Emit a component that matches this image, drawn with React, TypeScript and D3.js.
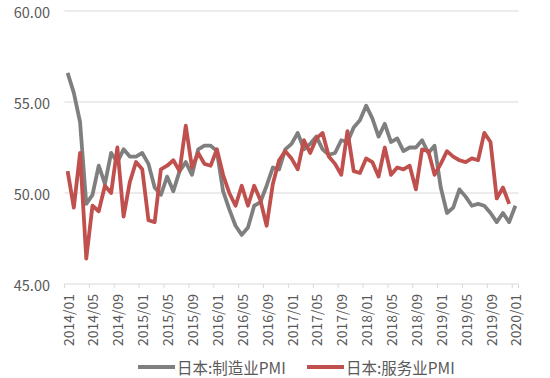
import React from "react";
import * as d3 from "d3";

const months: string[] = [];
for (let y = 2014; y <= 2020; y++) {
  for (let m = 1; m <= 12; m++) {
    if (y === 2020 && m > 1) break;
    months.push(`${y}/${m < 10 ? "0" + m : m}`);
  }
}

const manufacturing = [
  56.6, 55.5, 53.9, 49.4, 49.9, 51.5, 50.5, 52.2, 51.7, 52.4, 52.0, 52.0,
  52.2, 51.6, 50.3, 49.9, 50.9, 50.1, 51.2, 51.7, 51.0, 52.4, 52.6, 52.6,
  52.3, 50.1, 49.1, 48.2, 47.7, 48.1, 49.3, 49.5, 50.4, 51.4, 51.3, 52.4,
  52.7, 53.3, 52.4, 52.7, 53.1, 52.4, 52.1, 52.2, 52.9, 52.8, 53.6, 54.0,
  54.8, 54.1, 53.1, 53.8, 52.8, 53.0, 52.3, 52.5, 52.5, 52.9, 52.2, 52.6,
  50.3, 48.9, 49.2, 50.2, 49.8, 49.3, 49.4, 49.3, 48.9, 48.4, 48.9, 48.4,
  49.3,
];

const services = [
  51.2, 49.2, 52.2, 46.4, 49.3, 49.0, 50.4, 50.0, 52.5, 48.7, 50.6, 51.7,
  51.3, 48.5, 48.4, 51.3, 51.5, 51.8, 51.2, 53.7, 51.4, 52.2, 51.6, 51.5,
  52.4, 51.0, 50.0, 49.3, 50.4, 49.3, 50.4, 49.6, 48.2, 50.5, 51.8, 52.3,
  51.9, 51.3, 52.9, 52.2, 53.0, 53.3, 52.0, 51.6, 51.0, 53.4, 51.2, 51.1,
  51.9, 51.7, 50.9, 52.5, 51.0, 51.4, 51.3, 51.5, 50.2, 52.4, 52.3, 51.0,
  51.6, 52.3, 52.0, 51.8, 51.7, 51.9, 51.8, 53.3, 52.8, 49.7, 50.3, 49.4,
];

const yTicks = [45, 50, 55, 60];
const seriesNames = ["日本:制造业PMI", "日本:服务业PMI"];
const seriesColors = ["#7f7f7f", "#c0504d"];

const FONT = "'Noto Sans CJK SC', 'Noto Sans', sans-serif";
const TEXT = "#595959";

export default function App() {
  const left = 64.5;
  const right = 518.5;
  const x = d3
    .scaleBand<number>()
    .domain(months.map((_, i) => i))
    .range([left, right]);
  const cx = (i: number) => (x(i) as number) + x.bandwidth() / 2;
  const y = d3.scaleLinear().domain([45, 60]).range([284, 11]);

  const line = d3
    .line<number>()
    .x((_, i) => cx(i))
    .y((d) => y(d));

  const tickIdx = months.map((_, i) => i).filter((i) => i % 4 === 0);

  return (
    <svg
      width={550}
      height={378}
      style={{ position: "absolute", left: 0, top: 0, background: "#fff" }}
      fontFamily={FONT}
    >
      {yTicks.map((t) => (
        <g key={t}>
          {t !== 45 && (
            <line x1={left} x2={right} y1={y(t)} y2={y(t)} stroke="#d9d9d9" strokeWidth={1} />
          )}
          <text x={50} y={y(t)} textAnchor="end" dominantBaseline="central" fontSize={14.5} fill={TEXT}>
            {t.toFixed(2)}
          </text>
        </g>
      ))}
      <line x1={left} x2={right} y1={y(45)} y2={y(45)} stroke="#d9d9d9" strokeWidth={1} />
      {tickIdx.map((i) => (
        <line
          key={"t" + i}
          x1={x(i) as number}
          x2={x(i) as number}
          y1={y(45)}
          y2={y(45) + 4}
          stroke="#d9d9d9"
        />
      ))}
      <line x1={right} x2={right} y1={y(45)} y2={y(45) + 4} stroke="#d9d9d9" />
      {tickIdx.map((i) => (
        <text
          key={"l" + i}
          x={cx(i)}
          y={294}
          transform={`rotate(-90, ${cx(i)}, 294)`}
          textAnchor="end"
          dominantBaseline="central"
          fontSize={14}
          fill={TEXT}
        >
          {months[i]}
        </text>
      ))}
      <path d={line(manufacturing) || ""} fill="none" stroke={seriesColors[0]} strokeWidth={3.8} strokeLinejoin="round" />
      <path d={line(services) || ""} fill="none" stroke={seriesColors[1]} strokeWidth={3.8} strokeLinejoin="round" />
      {seriesNames.map((n, k) => {
        const lx = k === 0 ? 138 : 307;
        return (
          <g key={n}>
            <line x1={lx} x2={lx + 37} y1={367} y2={367} stroke={seriesColors[k]} strokeWidth={4} />
            <text x={lx + 39} y={367} dominantBaseline="central" fontSize={15.5} fill={TEXT}>
              {n}
            </text>
          </g>
        );
      })}
    </svg>
  );
}
